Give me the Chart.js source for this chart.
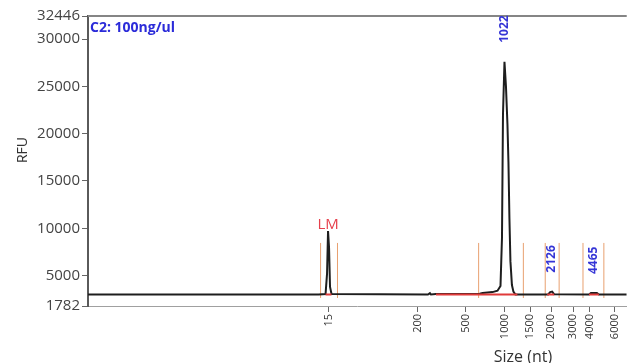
<!DOCTYPE html>
<html>
<head>
<meta charset="utf-8">
<script src="https://cdn.jsdelivr.net/npm/chart.js@4/dist/chart.umd.min.js"></script>
<style>
  html, body { margin: 0; padding: 0; background: #fff; overflow: hidden; }
  #wrap { width: 630px; height: 363px; position: relative; }
</style>
</head>
<body>
<div id="wrap"><canvas id="chart"></canvas></div>
<script>
// --- data (x = migration time, y = RFU) ---
const traceTime = [20.0, 43.2, 43.9, 44.05, 44.15, 44.25, 44.35, 44.5, 54.2, 54.4, 54.5, 55.0,
  59.4, 59.7, 60.7, 61.2, 61.5, 61.65, 61.75, 61.9, 62.05, 62.2, 62.3, 62.4, 62.5, 62.65,
  62.8, 63.0, 66.3, 66.5, 66.7, 66.9, 70.4, 70.6, 71.2, 71.4, 74.2];
const traceRfu = [3000, 3000, 3050, 5200, 9700, 8000, 3800, 3050, 3000, 3150, 3000, 3050,
  3080, 3150, 3250, 3400, 3900, 9000, 22000, 27600, 25000, 21000, 17000, 11000, 6500, 4000,
  3300, 3000, 3000, 3250, 3300, 3020, 3000, 3150, 3150, 3000, 3000];

// size ladder ticks (nt) and where they sit in migration time
const sizeTickPos = [44.2, 53.2, 58.0, 61.9, 64.5, 66.6, 68.8, 70.5, 73.0];
const sizeTickLabels = ["15", "200", "500", "1000", "1500", "2000", "3000", "4000", "6000"];
const rfuTicks = [1782, 5000, 10000, 15000, 20000, 25000, 30000, 32446];

// called peaks (first one is the lower marker)
const peakTime = [44.15, 61.9, 66.6, 70.9];
const peakRfu = [9700, 27600, 3300, 3150];
const peakLabels = ["LM", "1022", "2126", "4465"];

// integration windows and baselines
const windowStart = [43.4, 59.3, 66.0, 69.8];
const windowEnd = [45.1, 63.8, 67.4, 71.9];
const windowLow = 2630, windowHigh = 8450;
const baseStart = [43.9, 55.0, 66.2, 70.4];
const baseEnd = [44.5, 63.2, 66.9, 71.4];
const baseRfu = 3000;

const FONT = "'Open Sans', 'Noto Sans', sans-serif";

const tracePts = traceTime.map((t, i) => ({ x: t, y: traceRfu[i] }));
const windowPts = [];
windowStart.concat(windowEnd).forEach((t) => {
  windowPts.push({ x: t, y: windowLow }, { x: t, y: windowHigh }, { x: t, y: null });
});
const basePts = [];
baseStart.forEach((t, i) => {
  basePts.push({ x: t, y: baseRfu }, { x: baseEnd[i], y: baseRfu }, { x: baseEnd[i], y: null });
});

const extras = {
  id: "extras",
  afterDatasetsDraw(chart) {
    const { ctx, chartArea, scales } = chart;
    ctx.save();
    // top frame line
    ctx.strokeStyle = "#858585";
    ctx.lineWidth = 2;
    ctx.beginPath();
    ctx.moveTo(chartArea.left, chartArea.top);
    ctx.lineTo(chartArea.right, chartArea.top);
    ctx.stroke();

    // sample title
    ctx.fillStyle = "#2b2bd9";
    ctx.font = "bold 14px " + FONT;
    ctx.textAlign = "left";
    ctx.textBaseline = "alphabetic";
    ctx.fillText("C2: 100ng/ul", 90, 32);

    // peak labels
    peakLabels.forEach((lab, i) => {
      const px = scales.x.getPixelForValue(peakTime[i]);
      const py = scales.y.getPixelForValue(peakRfu[i]);
      if (i === 0) {
        ctx.fillStyle = "#e6404c";
        ctx.font = "15px " + FONT;
        ctx.textAlign = "center";
        ctx.textBaseline = "alphabetic";
        ctx.fillText(lab, px, py - 2);
      } else {
        ctx.save();
        ctx.translate(px, py - 19);
        ctx.rotate(-Math.PI / 2);
        ctx.fillStyle = "#3535d6";
        ctx.font = "bold 12px " + FONT;
        ctx.textAlign = "left";
        ctx.textBaseline = "middle";
        ctx.fillText(lab, 0, 0);
        ctx.restore();
      }
    });

    // axis titles
    ctx.fillStyle = "#333";
    ctx.font = "16px " + FONT;
    ctx.textAlign = "center";
    ctx.textBaseline = "alphabetic";
    ctx.fillText("Size (nt)", 523, 362);

    ctx.save();
    ctx.translate(23, 150);
    ctx.rotate(-Math.PI / 2);
    ctx.font = "14px " + FONT;
    ctx.textBaseline = "middle";
    ctx.fillText("RFU", 0, 0);
    ctx.restore();
    ctx.restore();
  },
};

new Chart(document.getElementById("chart"), {
  type: "line",
  data: {
    datasets: [
      {
        data: basePts,
        borderColor: "#e03a3a",
        borderWidth: 2,
        spanGaps: false,
        order: 0,
      },
      {
        data: tracePts,
        borderColor: "#1e1e1e",
        borderWidth: 2,
        order: 1,
      },
      {
        data: windowPts,
        borderColor: "#e8a070",
        borderWidth: 1,
        spanGaps: false,
        order: 2,
      },
    ],
  },
  options: {
    responsive: true,
    maintainAspectRatio: false,
    animation: false,
    layout: { padding: { top: 16, right: 0, bottom: 0, left: 0 } },
    elements: { point: { radius: 0 }, line: { tension: 0 } },
    plugins: { legend: { display: false }, tooltip: { enabled: false } },
    scales: {
      x: {
        type: "linear",
        min: 20,
        max: 74.2,
        afterBuildTicks: (scale) => {
          scale.ticks = sizeTickPos.map((v) => ({ value: v }));
        },
        afterFit: (scale) => { scale.height = 57; },
        ticks: {
          autoSkip: false,
          minRotation: 90,
          maxRotation: 90,
          padding: 2,
          color: "#333",
          font: { family: FONT, size: 11 },
          callback: (v, i) => sizeTickLabels[i],
        },
        grid: { drawOnChartArea: false, tickLength: 6, color: "#666" },
        border: { color: "#a0a0a0", width: 1 },
      },
      y: {
        min: 1782,
        max: 32446,
        afterBuildTicks: (scale) => {
          scale.ticks = rfuTicks.map((v) => ({ value: v }));
        },
        afterFit: (scale) => { scale.width = 88; },
        ticks: {
          padding: 2,
          color: "#444",
          font: { family: FONT, size: 15 },
          callback: (v) => String(v),
        },
        grid: { drawOnChartArea: false, tickLength: 6, color: "#666" },
        border: { color: "#5a5a5a", width: 2 },
      },
    },
  },
  plugins: [extras],
});
</script>
</body>
</html>
